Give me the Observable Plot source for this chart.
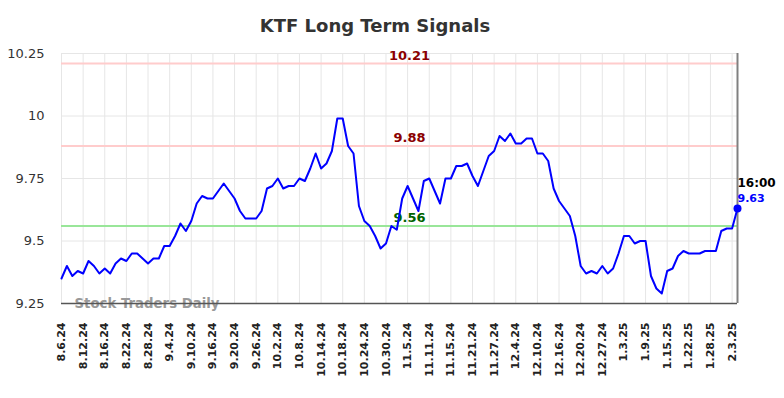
<!DOCTYPE html>
<html>
<head>
<meta charset="utf-8">
<script src="https://cdn.jsdelivr.net/npm/d3@7"></script>
<script src="https://cdn.jsdelivr.net/npm/@observablehq/plot@0.6"></script>
<style>
  html, body { margin: 0; padding: 0; background: #fff; }
  body { width: 784px; height: 398px; overflow: hidden; font-family: "DejaVu Sans", sans-serif; }
  #title { height: 44px; line-height: 52px; text-align: center; font-size: 18px; font-weight: bold; color: #333; padding-right: 34px; box-sizing: border-box; }
</style>
</head>
<body>
<div id="title">KTF Long Term Signals</div>
<div id="chart"></div>
<script>
const tickLabels = ["8.6.24","8.12.24","8.16.24","8.22.24","8.28.24","9.4.24","9.10.24","9.16.24","9.20.24","9.26.24","10.2.24","10.8.24","10.14.24","10.18.24","10.24.24","10.30.24","11.5.24","11.11.24","11.15.24","11.21.24","11.27.24","12.4.24","12.10.24","12.16.24","12.20.24","12.27.24","1.3.25","1.9.25","1.15.25","1.22.25","1.28.25","2.3.25"];
const prices = [9.35,9.40,9.36,9.38,9.37,9.42,9.40,9.37,9.39,9.37,9.41,9.43,9.42,9.45,9.45,9.43,9.41,9.43,9.43,9.48,9.48,9.52,9.57,9.54,9.58,9.65,9.68,9.67,9.67,9.70,9.73,9.70,9.67,9.62,9.59,9.59,9.59,9.62,9.71,9.72,9.75,9.71,9.72,9.72,9.75,9.74,9.79,9.85,9.79,9.81,9.86,9.99,9.99,9.88,9.85,9.64,9.58,9.56,9.52,9.47,9.49,9.56,9.545,9.67,9.72,9.67,9.62,9.74,9.75,9.70,9.65,9.75,9.75,9.80,9.80,9.81,9.76,9.72,9.78,9.84,9.86,9.92,9.90,9.93,9.89,9.89,9.91,9.91,9.85,9.85,9.82,9.71,9.66,9.63,9.60,9.52,9.40,9.37,9.38,9.37,9.40,9.37,9.39,9.45,9.52,9.52,9.49,9.50,9.50,9.36,9.31,9.29,9.38,9.39,9.44,9.46,9.45,9.45,9.45,9.46,9.46,9.46,9.54,9.55,9.55,9.63];
const tickStep = 4;
const yTicks = [9.25, 9.5, 9.75, 10, 10.25];
const resistanceLevels = [10.21, 9.88];
const supportLevels = [9.56];
const lastTime = "16:00";

const data = prices.map((v, i) => ({i, v}));
const tickIdx = tickLabels.map((_, k) => k * tickStep);
const last = data[data.length - 1];
const levelLabel = d3.format(".2f");

const chart = Plot.plot({
  width: 784,
  height: 354,
  marginTop: 9,
  marginBottom: 95,
  marginLeft: 61,
  marginRight: 47,
  style: { fontFamily: "DejaVu Sans, sans-serif", background: "#fff", overflow: "visible" },
  x: { domain: [0, prices.length - 1], label: null },
  y: { domain: [9.25, 10.25], label: null },
  marks: [
    Plot.gridX(tickIdx, { stroke: "#e6e6e6", strokeOpacity: 1, strokeWidth: 1 }),
    Plot.gridY(yTicks, { stroke: "#e6e6e6", strokeOpacity: 1, strokeWidth: 1 }),
    Plot.axisY({ ticks: yTicks, label: null, tickSize: 0, tickPadding: 17, tickFormat: d => d3.format("")(d), fontSize: 13, fill: "#333" }),
    Plot.axisX({ ticks: tickIdx, label: null, tickSize: 0, tickPadding: 19, tickRotate: -90, tickFormat: i => tickLabels[i / tickStep], fontSize: 11, fontWeight: "bold", fill: "#222" }),
    Plot.ruleY(resistanceLevels, { stroke: "#ffcccc", strokeWidth: 2 }),
    Plot.ruleY(supportLevels, { stroke: "#99e699", strokeWidth: 2 }),
    Plot.text(resistanceLevels, { y: d => d, text: d => levelLabel(d), frameAnchor: "middle", dx: 10, dy: -8, fill: "#8b0000", fontWeight: "bold", fontSize: 13 }),
    Plot.text(supportLevels, { y: d => d, text: d => levelLabel(d), frameAnchor: "middle", dx: 10, dy: -8, fill: "#006400", fontWeight: "bold", fontSize: 13 }),
    Plot.text(["Stock Traders Daily"], { frameAnchor: "bottom-left", dx: 13, dy: 4, fill: "#999", fontWeight: "bold", fontSize: 13.3, textAnchor: "start" }),
    Plot.ruleY([9.25], { stroke: "#555", strokeWidth: 1.5 }),
    Plot.ruleX([prices.length - 1], { stroke: "#808080", strokeWidth: 2 }),
    Plot.line(data, { x: "i", y: "v", stroke: "#0000ff", strokeWidth: 2 }),
    Plot.dot([last], { x: "i", y: "v", r: 4, fill: "#0000ff" }),
    Plot.text([last], { x: "i", y: "v", text: () => lastTime, textAnchor: "start", dx: 0, dy: -25, fill: "#000", fontWeight: "bold", fontSize: 12 }),
    Plot.text([last], { x: "i", y: "v", text: d => levelLabel(d.v), textAnchor: "start", dx: 0, dy: -10, fill: "#0000ff", fontWeight: "bold", fontSize: 11 })
  ]
});
document.getElementById("chart").appendChild(chart);
</script>
</body>
</html>
